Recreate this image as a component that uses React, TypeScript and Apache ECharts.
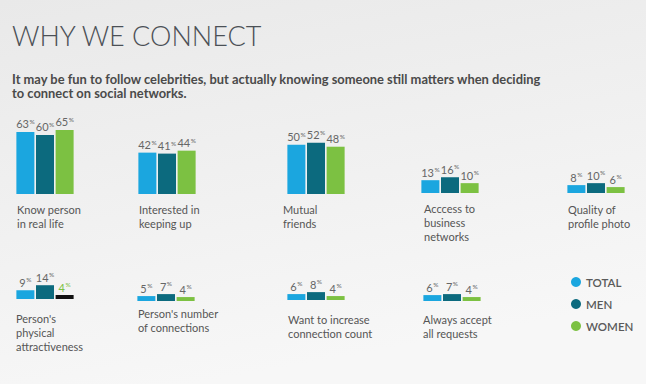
import React, { useEffect, useRef } from "react";
import * as echarts from "echarts";

const categories = [
  "Know person\nin real life",
  "Interested in\nkeeping up",
  "Mutual\nfriends",
  "Acccess to\nbusiness\nnetworks",
  "Quality of\nprofile photo",
  "Person's\nphysical\nattractiveness",
  "Person's number\nof connections",
  "Want to increase\nconnection count",
  "Always accept\nall requests",
];
const seriesNames = ["TOTAL", "MEN", "WOMEN"];
const totalValues = [63, 42, 50, 13, 8, 9, 5, 6, 6];
const menValues = [60, 41, 52, 16, 10, 14, 7, 8, 7];
const womenValues = [65, 44, 48, 10, 6, 4, 4, 4, 4];
const titleText = "WHY WE CONNECT";
const subtitleText =
  "It may be fun to follow celebrities, but actually knowing someone still matters when deciding\nto connect on social networks.";

// layout (positions only)
const gridLefts = [16, 138, 287, 421, 567, 16, 137, 287, 423];
const baselines = [194, 194, 194, 193, 193, 299, 301, 300, 301];
const labelLefts = [17, 139, 283, 424, 568, 16, 138, 288, 423];
const labelTops = [202.5, 202.5, 202.5, 201, 202, 311.5, 306.5, 312, 312.5];
const colors = ["#1ba6df", "#0c6a7e", "#7cc142"];
const FONT = "Lato, 'Open Sans', sans-serif";
const PX_PER_UNIT = 0.985;

export default function App() {
  const ref = useRef<HTMLDivElement>(null);
  useEffect(() => {
    document.body.style.margin = "0";
    if (!ref.current) return;
    const chart = echarts.init(ref.current, null, { renderer: "svg" });
    const valueSets = [totalValues, menValues, womenValues];
    const H = 100 * PX_PER_UNIT;
    const grids = categories.map((_, i) => ({
      left: gridLefts[i],
      top: baselines[i] - H,
      width: 58,
      height: H,
    }));
    const xAxes = categories.map((c, i) => ({
      type: "category",
      gridIndex: i,
      data: [c],
      show: false,
    }));
    const yAxes = categories.map((_, i) => ({
      type: "value",
      gridIndex: i,
      min: 0,
      max: 100,
      show: false,
    }));
    const rich = (col: string) => ({
      v: { fontSize: 11, color: col, fontFamily: FONT, lineHeight: 12 },
      p: { fontSize: 6.5, color: col, fontFamily: FONT, verticalAlign: "top", lineHeight: 12, padding: [0, 0, 0, 0.5] },
    });
    const series: any[] = [];
    categories.forEach((_, i) => {
      valueSets.forEach((vals, s) => {
        const odd = i === 5 && s === 2; // black bar with green label in source
        series.push({
          type: "bar",
          name: seriesNames[s],
          xAxisIndex: i,
          yAxisIndex: i,
          barWidth: 18,
          barGap: "9%",
          itemStyle: { color: colors[s] },
          label: {
            show: true,
            position: "top",
            distance: 2,
            formatter: "{v|{c}}{p|%}",
            rich: rich("#666"),
          },
          data: [
            odd
              ? {
                  value: vals[i],
                  itemStyle: { color: "#111" },
                  label: { rich: rich(colors[2]) },
                }
              : vals[i],
          ],
        });
      });
    });
    const graphics = categories.map((c, i) => ({
      type: "text",
      left: labelLefts[i],
      top: labelTops[i],
      style: {
        text: c,
        fill: "#555",
        font: `11px ${FONT}`,
        lineHeight: 14,
      },
    }));
    chart.setOption({
      animation: false,
      backgroundColor: {
        type: "linear",
        x: 0,
        y: 0,
        x2: 0.3,
        y2: 1,
        colorStops: [
          { offset: 0, color: "#e9e9e9" },
          { offset: 1, color: "#f7f7f7" },
        ],
      },
      title: [
        {
          text: titleText,
          left: 12,
          top: 19,
          padding: 0,
          textStyle: { fontFamily: FONT, fontSize: 27, fontWeight: 300, color: "#4b5056", lineHeight: 32 },
        },
        {
          text: subtitleText,
          left: 12,
          top: 71.5,
          padding: 0,
          textStyle: { fontFamily: FONT, fontSize: 12.9, fontWeight: "bold", color: "#4a4a4a", lineHeight: 14.5 },
        },
      ],
      legend: {
        orient: "vertical",
        left: 571,
        top: 276,
        padding: 0,
        icon: "circle",
        itemWidth: 10,
        itemHeight: 10,
        itemGap: 10,
        data: seriesNames,
        textStyle: { fontFamily: FONT, fontSize: 11.5, color: "#5a5a5a", fontWeight: 600, lineHeight: 12 },
      },
      grid: grids,
      xAxis: xAxes,
      yAxis: yAxes,
      series,
      graphic: graphics,
    });
    return () => chart.dispose();
  }, []);
  return <div ref={ref} style={{ width: 646, height: 384 }} />;
}
